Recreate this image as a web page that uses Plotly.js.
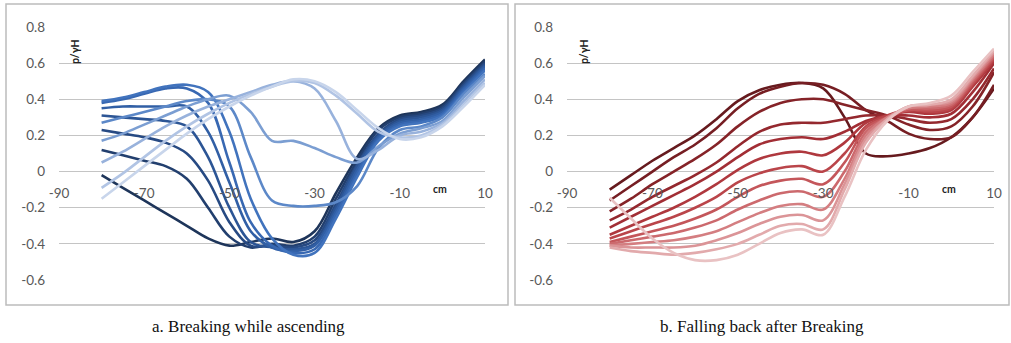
<!DOCTYPE html>
<html>
<head>
<meta charset="utf-8">
<script src="https://cdn.plot.ly/plotly-3.0.1.min.js"></script>
<style>html,body{margin:0;padding:0;background:#fff;}#chart{width:1011px;height:343px;}</style>
</head>
<body>
<div id="chart"></div>
<script>
// Horizontal position (cm)
const xCm = [-80,-75,-70,-65,-60,-55,-50,-45,-40,-35,-30,-25,-20,-15,-10,-5,0,5,10];

// Panel a: Breaking while ascending (dark -> light)
const blue1  = [-0.02,-0.09,-0.16,-0.23,-0.30,-0.37,-0.41,-0.39,-0.37,-0.39,-0.33,-0.12,0.08,0.24,0.31,0.33,0.37,0.50,0.62];
const blue2  = [0.12,0.09,0.06,0.03,-0.04,-0.20,-0.36,-0.42,-0.40,-0.41,-0.36,-0.15,0.06,0.23,0.30,0.32,0.36,0.49,0.61];
const blue3  = [0.23,0.21,0.19,0.16,0.10,-0.05,-0.28,-0.41,-0.41,-0.42,-0.38,-0.18,0.04,0.21,0.29,0.31,0.35,0.48,0.60];
const blue4  = [0.31,0.30,0.29,0.28,0.25,0.08,-0.20,-0.39,-0.42,-0.43,-0.40,-0.20,0.03,0.20,0.28,0.30,0.34,0.47,0.59];
const blue5  = [0.35,0.36,0.36,0.36,0.36,0.22,-0.06,-0.33,-0.42,-0.44,-0.41,-0.22,0.01,0.19,0.27,0.29,0.33,0.46,0.58];
const blue6  = [0.38,0.40,0.43,0.46,0.46,0.38,0.05,-0.28,-0.41,-0.45,-0.43,-0.24,-0.01,0.18,0.26,0.28,0.32,0.45,0.57];
const blue7  = [0.39,0.41,0.44,0.47,0.48,0.44,0.22,-0.15,-0.37,-0.46,-0.45,-0.26,-0.03,0.17,0.25,0.27,0.31,0.44,0.56];
const blue8  = [0.27,0.30,0.33,0.36,0.39,0.40,0.36,0.08,-0.16,-0.19,-0.19,-0.17,-0.08,0.13,0.23,0.25,0.30,0.43,0.54];
const blue9  = [0.17,0.21,0.26,0.31,0.36,0.40,0.42,0.33,0.17,0.17,0.13,0.08,0.05,0.14,0.21,0.24,0.28,0.41,0.53];
const blue10 = [0.05,0.11,0.18,0.25,0.31,0.36,0.40,0.44,0.48,0.50,0.46,0.28,0.07,0.12,0.20,0.22,0.27,0.39,0.51];
const blue11 = [-0.09,-0.01,0.08,0.17,0.25,0.32,0.38,0.43,0.47,0.50,0.49,0.42,0.32,0.22,0.19,0.20,0.26,0.37,0.49];
const blue12 = [-0.15,-0.06,0.03,0.12,0.21,0.29,0.36,0.42,0.47,0.51,0.50,0.44,0.34,0.24,0.18,0.19,0.25,0.36,0.48];

// Panel b: Falling back after Breaking (dark -> light)
const red1  = [-0.10,-0.02,0.06,0.13,0.20,0.29,0.39,0.45,0.48,0.49,0.46,0.30,0.10,0.085,0.10,0.13,0.19,0.30,0.46];
const red2  = [-0.16,-0.08,0.00,0.08,0.15,0.24,0.35,0.43,0.47,0.49,0.48,0.43,0.34,0.28,0.21,0.18,0.19,0.30,0.48];
const red3  = [-0.22,-0.15,-0.07,0.00,0.07,0.15,0.25,0.33,0.38,0.40,0.40,0.37,0.34,0.31,0.26,0.23,0.25,0.36,0.55];
const red4  = [-0.27,-0.21,-0.14,-0.08,-0.02,0.05,0.14,0.22,0.26,0.27,0.27,0.29,0.31,0.31,0.29,0.27,0.29,0.40,0.57];
const red5  = [-0.31,-0.25,-0.19,-0.13,-0.07,0.00,0.08,0.15,0.18,0.19,0.18,0.22,0.28,0.31,0.31,0.30,0.32,0.44,0.60];
const red6  = [-0.35,-0.30,-0.25,-0.20,-0.14,-0.07,0.01,0.07,0.10,0.11,0.09,0.16,0.27,0.31,0.33,0.32,0.34,0.47,0.61];
const red7  = [-0.37,-0.33,-0.29,-0.25,-0.20,-0.14,-0.06,-0.01,0.02,0.03,0.00,0.10,0.25,0.31,0.34,0.33,0.35,0.48,0.62];
const red8  = [-0.39,-0.36,-0.33,-0.30,-0.26,-0.21,-0.14,-0.08,-0.05,-0.04,-0.07,0.05,0.24,0.30,0.34,0.34,0.36,0.49,0.63];
const red9  = [-0.40,-0.38,-0.36,-0.34,-0.31,-0.27,-0.21,-0.16,-0.12,-0.11,-0.14,0.00,0.22,0.30,0.35,0.35,0.37,0.50,0.64];
const red10 = [-0.41,-0.40,-0.39,-0.38,-0.36,-0.33,-0.28,-0.23,-0.19,-0.18,-0.21,-0.04,0.20,0.30,0.35,0.36,0.38,0.51,0.65];
const red11 = [-0.41,-0.42,-0.42,-0.42,-0.41,-0.38,-0.34,-0.29,-0.25,-0.24,-0.27,-0.07,0.18,0.29,0.36,0.37,0.39,0.52,0.66];
const red12 = [-0.42,-0.44,-0.45,-0.46,-0.45,-0.43,-0.40,-0.35,-0.30,-0.29,-0.32,-0.10,0.16,0.29,0.36,0.37,0.40,0.53,0.67];
const red13 = [-0.145,-0.26,-0.37,-0.45,-0.49,-0.49,-0.46,-0.40,-0.34,-0.32,-0.35,-0.14,0.12,0.28,0.36,0.38,0.42,0.55,0.68];

const blueSeries = [blue1,blue2,blue3,blue4,blue5,blue6,blue7,blue8,blue9,blue10,blue11,blue12];
const redSeries  = [red1,red2,red3,red4,red5,red6,red7,red8,red9,red10,red11,red12,red13];

// Ticks and labels
const xTickVals = [-90,-70,-50,-30,-10,10];
const xTickText = ['-90','-70','-50','-30','-10','10'];
const yTickVals = [0.8,0.6,0.4,0.2,0,-0.2,-0.4,-0.6];
const yTickText = ['0.8','0.6','0.4','0.2','0','-0.2','-0.4','-0.6'];
const yLabel = 'p/γH';
const xLabel = 'cm';
const captionA = 'a. Breaking while ascending';
const captionB = 'b. Falling back after Breaking';

const blueColors = ['#1e355a','#223f6e','#274a83','#2c5595','#315fa5','#3868b2','#4173bd','#5c88c8','#7b9ed2','#98b2dc','#b1c4e4','#c8d5eb'];
const redColors  = ['#661a1e','#761e23','#852328','#94282e','#a22e35','#af383e','#ba454a','#c4565a','#cc696d','#d47e81','#db9497','#e2aaac','#e9c2c3'];

const traces = [];
blueSeries.forEach((s,i)=>traces.push({x:xCm,y:s,xaxis:'x',yaxis:'y',type:'scatter',mode:'lines',
  line:{color:blueColors[i],width:2.6,shape:'spline',smoothing:1},hoverinfo:'skip',showlegend:false}));
redSeries.forEach((s,i)=>traces.push({x:xCm,y:s,xaxis:'x2',yaxis:'y2',type:'scatter',mode:'lines',
  line:{color:redColors[i],width:2.6,shape:'spline',smoothing:1},hoverinfo:'skip',showlegend:false}));

const W = 1011, H = 343;
const py = p => 1 - p/H;
const px = p => p/W;
const tickFont = {family:'Lato, "Open Sans", sans-serif', size:13.5, color:'#595959'};

function xa(d0,d1){
  return {domain:[px(d0),px(d1)], range:[-90,10], anchor:'free', position:py(172),
    tickvals:xTickVals, ticktext:xTickText, ticks:'', showgrid:false, zeroline:false, showline:false,
    tickfont:tickFont, ticklabelstandoff:11, fixedrange:true};
}
function ya(){
  return {domain:[py(280),py(27)], range:[-0.6,0.8], tickvals:yTickVals, ticktext:yTickText,
    showgrid:true, gridcolor:'#c4c4c4', gridwidth:1.2, zeroline:false, showline:false, ticks:'',
    tickfont:tickFont, ticklabelstandoff:13, fixedrange:true};
}
const xaxis = xa(59,485); const xaxis2 = xa(567,994);
const yaxis = ya(); yaxis.anchor='x';
const yaxis2 = ya(); yaxis2.anchor='x2';

const boxLine = {color:'#bcbcbc', width:1.5};
const smallFont = {family:'Lato, "Open Sans", sans-serif', size:10.5, color:'#222'};
const capFont = {family:'"Liberation Serif", "Times New Roman", serif', size:17, color:'#111'};
function ann(x,y,text,font,angle){
  return {xref:'paper', yref:'paper', x:px(x), y:py(y), xanchor:'center', yanchor:'middle',
    text, showarrow:false, textangle:angle||0, font};
}
const layout = {
  width:W, height:H, margin:{l:0,r:0,t:0,b:0}, paper_bgcolor:'#fff', plot_bgcolor:'rgba(0,0,0,0)',
  xaxis, yaxis, xaxis2, yaxis2, showlegend:false,
  shapes:[
    {type:'rect', xref:'paper', yref:'paper', x0:px(6), x1:px(508), y0:py(305), y1:py(4), line:boxLine},
    {type:'rect', xref:'paper', yref:'paper', x0:px(515), x1:px(1009), y0:py(305), y1:py(4), line:boxLine}
  ],
  annotations:[
    ann(75,52,'<b>'+yLabel+'</b>',smallFont,-90),
    ann(584,52,'<b>'+yLabel+'</b>',smallFont,-90),
    ann(440,189,'<b>'+xLabel+'</b>',smallFont),
    ann(949,189,'<b>'+xLabel+'</b>',smallFont),
    ann(248,326,captionA,capFont),
    ann(762,326,captionB,capFont)
  ]
};
Plotly.newPlot('chart', traces, layout, {displayModeBar:false, staticPlot:true});
</script>
</body>
</html>
